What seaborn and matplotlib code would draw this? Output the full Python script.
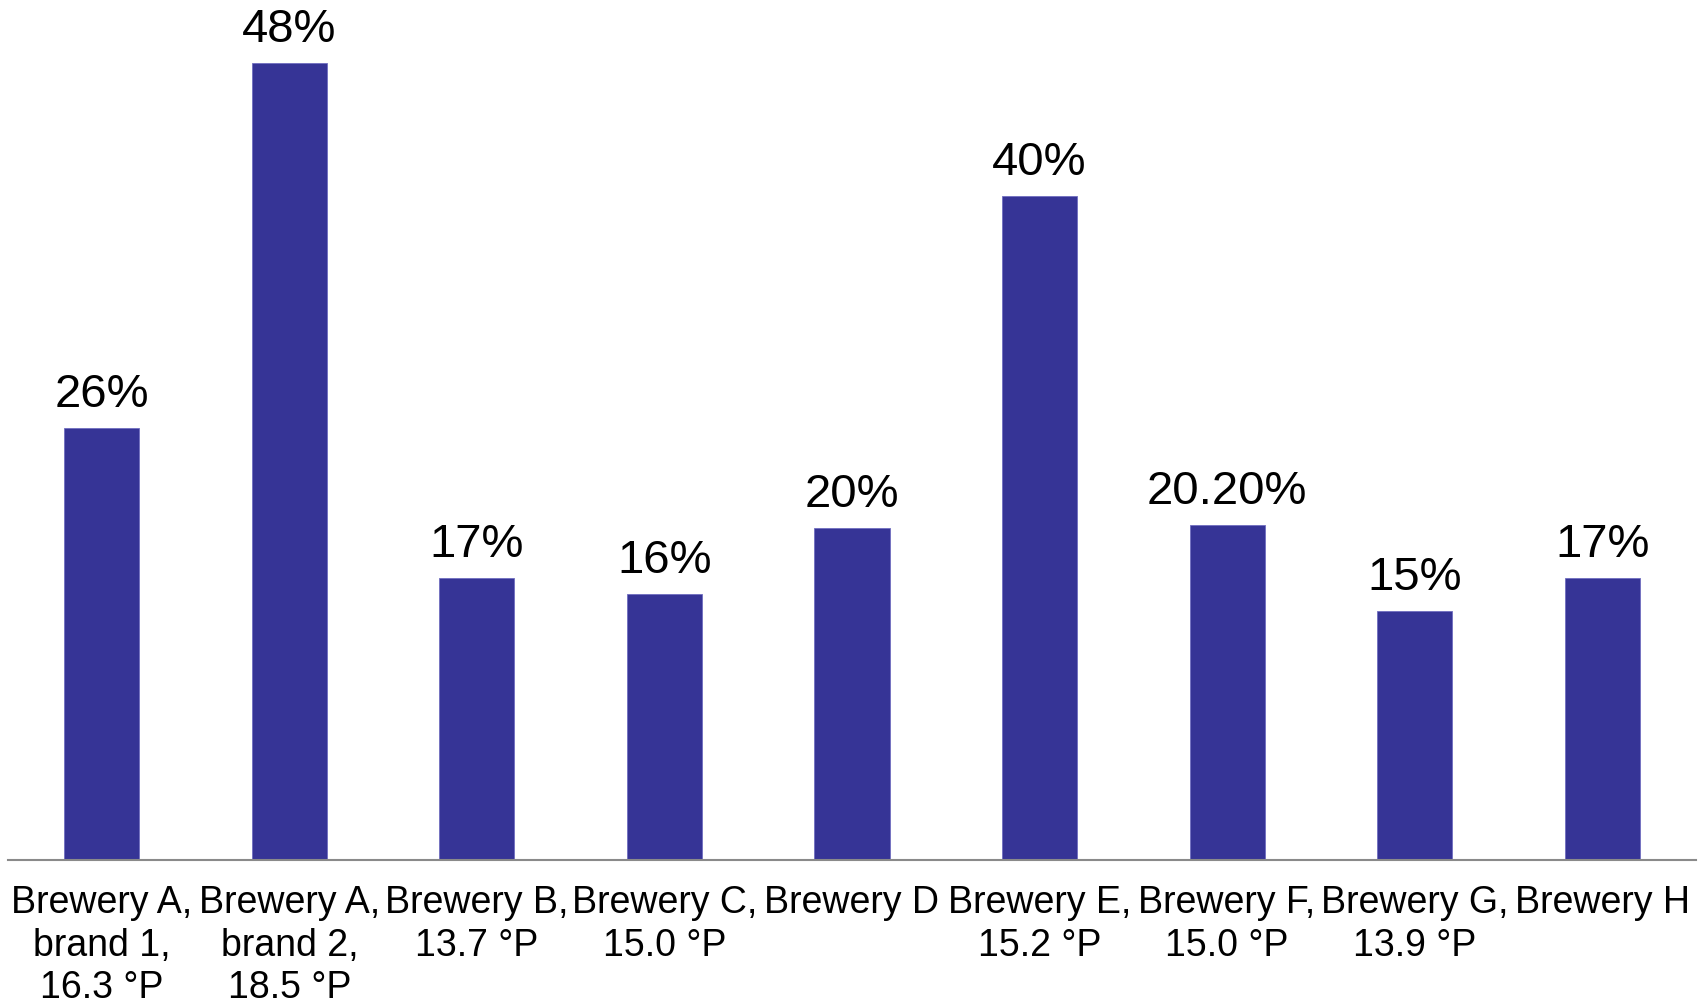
import matplotlib
matplotlib.use("Agg")
import matplotlib.pyplot as plt
import seaborn as sns
import pandas as pd

# Beer samples and their measured share (%)
categories = [
    "Brewery A,\nbrand 1,\n16.3 °P",
    "Brewery A,\nbrand 2,\n18.5 °P",
    "Brewery B,\n13.7 °P",
    "Brewery C,\n15.0 °P",
    "Brewery D",
    "Brewery E,\n15.2 °P",
    "Brewery F,\n15.0 °P",
    "Brewery G,\n13.9 °P",
    "Brewery H",
]
values = [26, 48, 17, 16, 20, 40, 20.2, 15, 17]
value_labels = ["26%", "48%", "17%", "16%", "20%", "40%", "20.20%", "15%", "17%"]

df = pd.DataFrame({"sample": categories, "share": values})

sns.set_theme(style="white")
plt.rcParams["font.family"] = ["Liberation Sans", "DejaVu Sans"]

fig = plt.figure(figsize=(17.02, 10.07), dpi=100)
ax = fig.add_axes([8 / 1702, 0.146, 1688 / 1702, 0.824])

sns.barplot(data=df, x="sample", y="share", color="#363496", saturation=1,
            width=0.4, ax=ax, edgecolor="#6f6dc0", linewidth=0.6)

ax.bar_label(ax.containers[0], labels=value_labels, padding=8,
             fontsize=34, color="black")

ax.set_xlim(-0.5, 8.5)
ax.set_ylim(0, 50)
ax.set_xlabel("")
ax.set_ylabel("")
ax.set_yticks([])

for side in ["top", "right", "left"]:
    ax.spines[side].set_visible(False)
ax.spines["bottom"].set_color("#8a8a8a")
ax.spines["bottom"].set_linewidth(1.5)

ax.tick_params(axis="x", length=0, pad=18, labelsize=27, colors="black")
for lbl in ax.get_xticklabels():
    lbl.set_linespacing(1.24)

fig.savefig("out.png", dpi=100, facecolor="white")
